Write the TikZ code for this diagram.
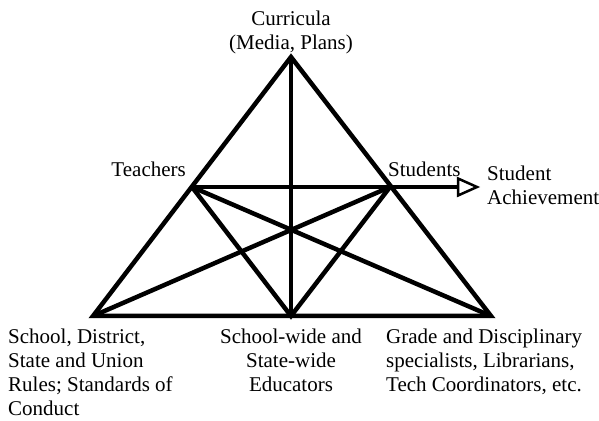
\documentclass[tikz,border=0pt]{standalone}
\usepackage{fontspec}
\setmainfont{Liberation Serif}
\begin{document}
\begin{tikzpicture}[x=1pt,y=1pt,
  edge/.style={line width=4.5pt, line join=miter},
  lbl/.style={inner sep=0pt, font=\fontsize{21}{24}\selectfont}]
\useasboundingbox (0,0) rectangle (599,420);
\coordinate (A) at (291,363);
\coordinate (T) at (192,233);
\coordinate (S) at (390,233);
\coordinate (L) at (93,104);
\coordinate (M) at (291,104);
\coordinate (R) at (491,104);
\coordinate (E) at (458,233);
% outline
\draw[edge] (A) -- (L) -- (R) -- cycle;
\draw[edge] (A) -- (M);
\draw[edge] (T) -- (E);
\draw[edge] (T) -- (M) -- (S);
\draw[edge] (T) -- (R);
\draw[edge] (S) -- (L);
% arrow head
\draw[line width=2.5pt, line join=miter] (E) ++(0,8.5) -- ++(19,-8.5) -- ++(-19,-8.5) -- cycle;
% labels
\node[lbl, anchor=north, align=center] (cur) at (291,409) {Curricula\\(Media, Plans)};
\node[lbl, anchor=base east] (tea) at (186,243) {Teachers};
\node[lbl, anchor=base west] (stu) at (388,243) {Students};
\node[lbl, anchor=north west, align=left] (ach) at (487,254) {Student\\Achievement};
\node[lbl, anchor=north west, align=left] (sch) at (8,91) {School, District,\\State and Union\\Rules; Standards of\\Conduct};
\node[lbl, anchor=north, align=center] (edu) at (291,91) {School-wide and\\State-wide\\Educators};
\node[lbl, anchor=north west, align=left] (gra) at (386,91) {Grade and Disciplinary\\specialists, Librarians,\\Tech Coordinators, etc.};
\end{tikzpicture}
\end{document}
